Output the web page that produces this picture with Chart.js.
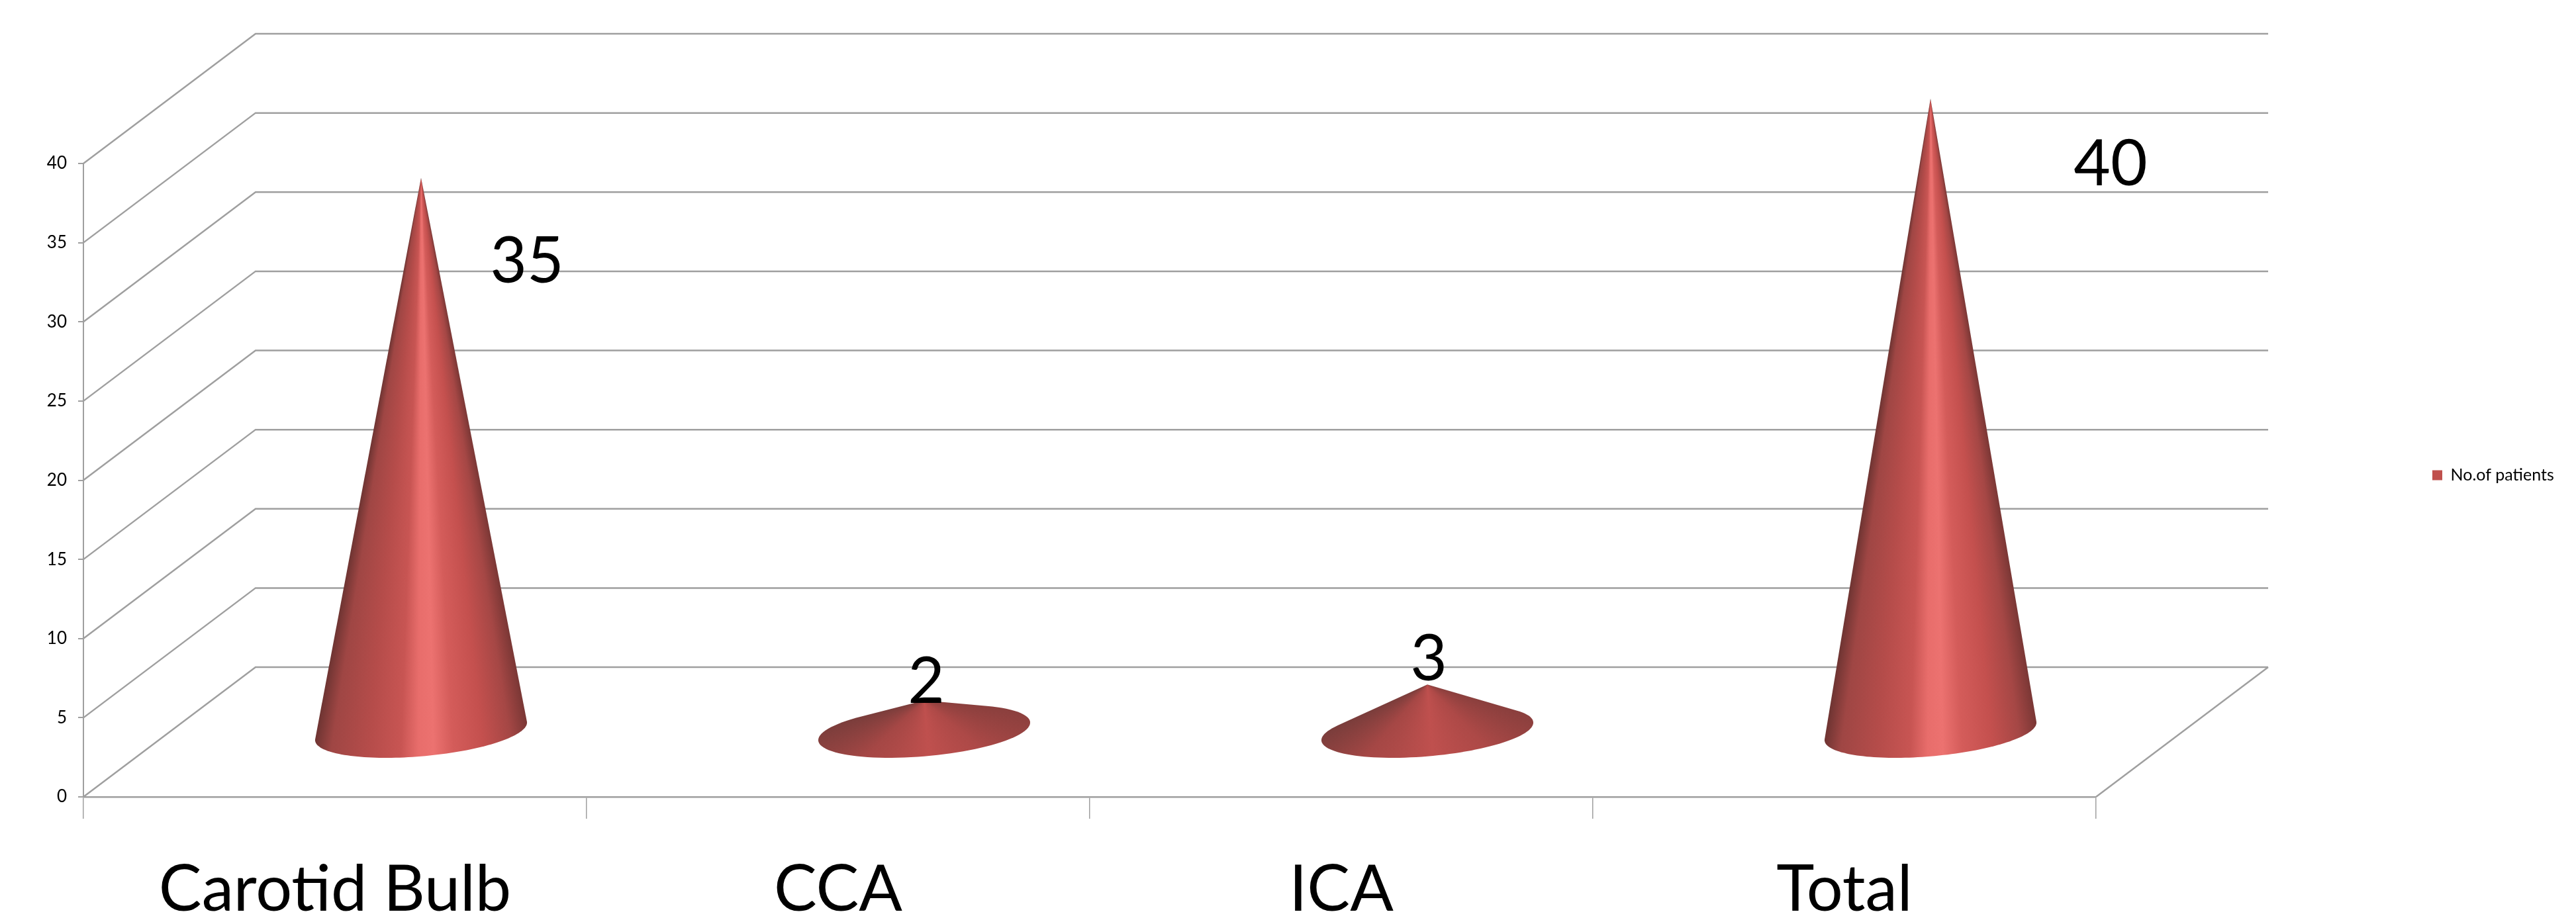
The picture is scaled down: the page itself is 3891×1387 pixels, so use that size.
<!DOCTYPE html>
<html>
<head>
<meta charset="utf-8">
<title>No.of patients</title>
<script src="https://cdn.jsdelivr.net/npm/chart.js@4"></script>
<style>
  html, body { margin: 0; padding: 0; background: #fff; }
  canvas { display: block; }
</style>
</head>
<body>
<canvas id="myChart" width="3891" height="1387"></canvas>
<script>
const categories = ["Carotid Bulb", "CCA", "ICA", "Total"];
const patients = [35, 2, 3, 40];
const seriesName = "No.of patients";
const yMax = 40;
const yStep = 5;

const lineColor = "#9f9f9f";
const fontName = "Lato, 'Open Sans', sans-serif";

// how far the back wall sits from the front plane
const depthX = 260;
const depthY = 196;

// the value labels were placed by hand in the original, relative to the cone tip
const labelShift = [[160, 127], [3, -27], [2, -37], [272, 100]];

const tallStops = [
  [0, "#6e3432"], [0.08, "#9f4644"], [0.25, "#b54c4a"], [0.4, "#c85553"],
  [0.48, "#e86d6b"], [0.55, "#ec7270"], [0.64, "#d45c5a"], [0.78, "#c4504e"], [0.91, "#a54745"], [1, "#7a3735"]
];
const flatStops = [
  [0, "#7a3d3b"], [0.18, "#a54745"], [0.5, "#bf504e"], [0.78, "#ad4947"], [1, "#8a3f3d"]
];

function drawCone(ctx, el) {
  const apexX = el.x + depthX / 2;
  const apexY = el.y - depthY / 2;
  const cx = apexX;
  const cy = el.base - depthY / 2;

  // base is a circle lying on the floor, sheared along the depth direction
  const ux = 151, vx = 53, vy = -40;
  const px = t => cx + ux * Math.cos(t) + vx * Math.sin(t);
  const py = t => cy + vy * Math.sin(t);

  // tangents from the tip to that base
  const ax = apexX - cx, ay = apexY - cy;
  const k = ux * vy;
  const p = -ay * ux;
  const q = ax * vy - ay * vx;
  const phi = Math.atan2(q, p);
  const s = Math.asin(Math.max(-1, Math.min(1, -k / Math.hypot(p, q))));
  let t1 = phi + s;
  let t2 = phi + Math.PI - s;

  // walk round the side of the base that faces away from the tip
  const mid = (t1 + t2) / 2;
  if (py(mid) < py(mid + Math.PI)) {
    t1 += Math.PI * 2;
  }
  const from = Math.min(t1, t2), to = Math.max(t1, t2);

  const a1 = Math.atan2(py(from) - apexY, px(from) - apexX);
  const a2 = Math.atan2(py(to) - apexY, px(to) - apexX);
  const right = Math.min(a1, a2), left = Math.max(a1, a2);

  const grad = ctx.createConicGradient(right, apexX, apexY);
  const stops = el.base - el.y < 200 ? flatStops : tallStops;
  const spread = (left - right) / (Math.PI * 2);
  for (const st of stops) {
    grad.addColorStop((1 - st[0]) * spread, st[1]);
  }

  ctx.save();
  ctx.beginPath();
  ctx.moveTo(apexX, apexY);
  for (let i = 0; i <= 80; i++) {
    const t = from + (to - from) * i / 80;
    ctx.lineTo(px(t), py(t));
  }
  ctx.closePath();
  ctx.fillStyle = grad;
  ctx.fill();
  ctx.restore();
}

const wallPlugin = {
  id: "wall",
  afterLayout(chart) {
    // keep the legend out at the far right, away from the plot
    const legend = chart.legend;
    legend.left = 3664;
    legend.right = legend.left + legend.width;
    legend.top = 718 - legend.height / 2;
    legend.bottom = legend.top + legend.height;
  },
  beforeDatasetsDraw(chart) {
    const ctx = chart.ctx;
    const x = chart.scales.x, y = chart.scales.y;
    ctx.save();
    ctx.strokeStyle = lineColor;
    ctx.lineWidth = 2.5;
    y.ticks.forEach(tick => {
      const py = y.getPixelForValue(tick.value);
      ctx.beginPath();
      ctx.moveTo(x.left, py);
      ctx.lineTo(x.left + depthX, py - depthY);
      ctx.lineTo(x.right + depthX, py - depthY);
      ctx.stroke();
    });
    const floor = y.getPixelForValue(0);
    ctx.beginPath();
    ctx.moveTo(x.right, floor);
    ctx.lineTo(x.right + depthX, floor - depthY);
    ctx.stroke();
    ctx.restore();
  },
  beforeDatasetDraw(chart, args) {
    args.meta.data.forEach(el => drawCone(chart.ctx, el));
    return false;
  },
  afterDatasetsDraw(chart) {
    const ctx = chart.ctx;
    const meta = chart.getDatasetMeta(0);
    ctx.save();
    ctx.fillStyle = "#000";
    ctx.font = "96px " + fontName;
    ctx.textAlign = "center";
    ctx.textBaseline = "middle";
    meta.data.forEach((el, i) => {
      const shift = labelShift[i];
      ctx.fillText(patients[i], el.x + depthX / 2 + shift[0], el.y - depthY / 2 + shift[1]);
    });
    ctx.restore();
  }
};

var ctx = document.getElementById("myChart").getContext("2d");

var coneChart = new Chart(ctx, {
  type: "bar",
  plugins: [wallPlugin],
  data: {
    labels: categories,
    datasets: [{
      label: seriesName,
      data: patients,
      backgroundColor: "#c0504d",
      borderWidth: 0
    }]
  },
  options: {
    responsive: false,
    animation: false,
    layout: {
      padding: { left: 0, top: 247, right: 725, bottom: 0 }
    },
    plugins: {
      tooltip: { enabled: false },
      title: { display: false },
      legend: {
        position: "chartArea",
        labels: {
          boxWidth: 15,
          boxHeight: 15,
          padding: 10,
          color: "#000",
          font: { family: fontName, size: 25 }
        }
      }
    },
    scales: {
      x: {
        afterFit: s => { s.height = 183; },
        border: { color: lineColor, width: 2.5 },
        grid: {
          offset: true,
          drawOnChartArea: false,
          color: lineColor,
          lineWidth: 1.5,
          tickLength: 33
        },
        ticks: {
          color: "#000",
          padding: 50,
          maxRotation: 0,
          autoSkip: false,
          font: { family: fontName, size: 97 }
        }
      },
      y: {
        min: 0,
        max: yMax,
        afterFit: s => { s.width = 126; },
        border: { color: lineColor, width: 2 },
        grid: {
          drawOnChartArea: false,
          color: lineColor,
          lineWidth: 2,
          tickLength: 8
        },
        ticks: {
          stepSize: yStep,
          color: "#000",
          padding: 17,
          font: { family: fontName, size: 26 }
        }
      }
    }
  }
});
</script>
</body>
</html>
